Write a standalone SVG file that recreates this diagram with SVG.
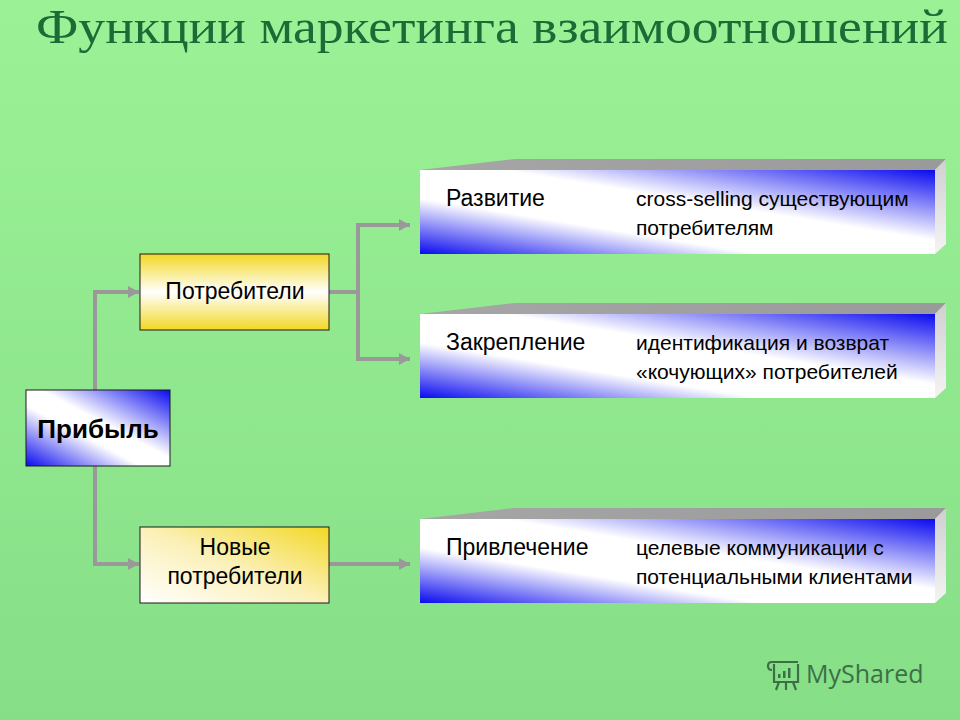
<svg xmlns="http://www.w3.org/2000/svg" width="960" height="720" viewBox="0 0 960 720">
<defs>
<linearGradient id="bg" x1="0" y1="0" x2="0" y2="1">
<stop offset="0" stop-color="#9bf296"/>
<stop offset="1" stop-color="#86de87"/>
</linearGradient>
<linearGradient id="blue" x1="0" y1="1" x2="1" y2="0">
<stop offset="0" stop-color="#0a0af0"/>
<stop offset="0.33" stop-color="#ffffff"/>
<stop offset="0.58" stop-color="#ffffff"/>
<stop offset="1" stop-color="#0a0af0"/>
</linearGradient>
<linearGradient id="blueP" x1="0" y1="1" x2="1" y2="0">
<stop offset="0" stop-color="#0a0af0"/>
<stop offset="0.4" stop-color="#ffffff"/>
<stop offset="0.55" stop-color="#ffffff"/>
<stop offset="1" stop-color="#0a0af0"/>
</linearGradient>
<linearGradient id="yelV" x1="0" y1="0" x2="0" y2="1">
<stop offset="0" stop-color="#f2d824"/>
<stop offset="0.5" stop-color="#ffffff"/>
<stop offset="1" stop-color="#f2d824"/>
</linearGradient>
<linearGradient id="yelD" x1="0" y1="1" x2="1" y2="0">
<stop offset="0" stop-color="#ffffff"/>
<stop offset="0.5" stop-color="#fbf0b8"/>
<stop offset="1" stop-color="#f2d824"/>
</linearGradient>
<linearGradient id="top" x1="0" y1="0" x2="1" y2="0">
<stop offset="0" stop-color="#a6a6a6"/>
<stop offset="1" stop-color="#9a9a9a"/>
</linearGradient>
<linearGradient id="side" x1="0" y1="0" x2="0" y2="1">
<stop offset="0" stop-color="#cfcfcf"/>
<stop offset="1" stop-color="#f4f4f4"/>
</linearGradient>
<marker id="arr" markerUnits="userSpaceOnUse" markerWidth="12" markerHeight="12" refX="11" refY="6" orient="auto">
<path d="M0,0 L11,6 L0,12 z" fill="#999999"/>
</marker>
<style>
.box{stroke:#1a1a1a;stroke-width:1}
.t{font-family:"Liberation Sans",Arial,sans-serif;fill:#000}
.lbl{font-size:23px}
.dsc{font-size:21px}
.conn{fill:none;stroke:#999999;stroke-width:4;marker-end:url(#arr)}
</style>
</defs>
<rect width="960" height="720" fill="url(#bg)"/>
<text x="36" y="43" font-family="'Liberation Serif','Times New Roman',serif" font-size="49" fill="#1a6b35" textLength="912" lengthAdjust="spacingAndGlyphs">Функции маркетинга взаимоотношений</text>

<g id="connectors">
<path class="conn" d="M95,390 V292 H139"/>
<path class="conn" d="M95,466 V564 H139"/>
<path class="conn" d="M329,292 H358 V225 H410"/>
<path class="conn" d="M358,292 V359 H410"/>
<path class="conn" d="M329,564 H410"/>
</g>

<g id="pribyl">
<rect class="box" x="26" y="390" width="144" height="76" fill="url(#blueP)"/>
<text class="t" x="98" y="438" font-size="26" font-weight="bold" text-anchor="middle">Прибыль</text>
</g>
<g id="potrebiteli">
<rect class="box" x="140" y="254" width="189" height="76" fill="url(#yelV)"/>
<text class="t" x="235" y="299" font-size="23" text-anchor="middle">Потребители</text>
</g>
<g id="novye">
<rect class="box" x="140" y="527" width="189" height="76" fill="url(#yelD)"/>
<text class="t" x="235" y="555" font-size="23" text-anchor="middle">Новые</text>
<text class="t" x="235" y="584" font-size="23" text-anchor="middle">потребители</text>
</g>

<g id="razvitie">
<polygon points="420,170 515,159 946,159 935,170" fill="url(#top)"/>
<polygon points="935,170 946,159 946,244 935,254" fill="url(#side)"/>
<rect x="420" y="170" width="515" height="84" fill="url(#blue)"/>
<text class="t lbl" x="446" y="206">Развитие</text>
<text class="t dsc" x="636" y="206">cross-selling существующим</text>
<text class="t dsc" x="636" y="235">потребителям</text>
</g>
<g id="zakreplenie">
<polygon points="420,314 515,303 946,303 935,314" fill="url(#top)"/>
<polygon points="935,314 946,303 946,388 935,398" fill="url(#side)"/>
<rect x="420" y="314" width="515" height="84" fill="url(#blue)"/>
<text class="t lbl" x="446" y="350">Закрепление</text>
<text class="t dsc" x="636" y="350">идентификация и возврат</text>
<text class="t dsc" x="636" y="379">«кочующих» потребителей</text>
</g>
<g id="privlechenie">
<polygon points="420,519 515,508 946,508 935,519" fill="url(#top)"/>
<polygon points="935,519 946,508 946,593 935,603" fill="url(#side)"/>
<rect x="420" y="519" width="515" height="84" fill="url(#blue)"/>
<text class="t lbl" x="446" y="555">Привлечение</text>
<text class="t dsc" x="636" y="555">целевые коммуникации с</text>
<text class="t dsc" x="636" y="584">потенциальными клиентами</text>
</g>

<g id="logo" fill="none" stroke="#3b7047" stroke-width="2.2">
<path d="M772,662 H798 M772,662 q-4,0 -4,4 q0,4 4,4 M774,664 V682 H798 V664"/>
<rect x="778" y="674" width="2.5" height="4" fill="#3b7047" stroke="none"/>
<rect x="783" y="671" width="2.5" height="7" fill="#3b7047" stroke="none"/>
<rect x="788" y="668" width="2.5" height="10" fill="#3b7047" stroke="none"/>
<path d="M779,682 L776,690 M786,682 V690 M793,682 L796,690"/>
<text x="806" y="683" font-family="'Open Sans','Noto Sans',sans-serif" font-size="25" fill="#3b7047" stroke="none">MyShared</text>
</g>
</svg>
